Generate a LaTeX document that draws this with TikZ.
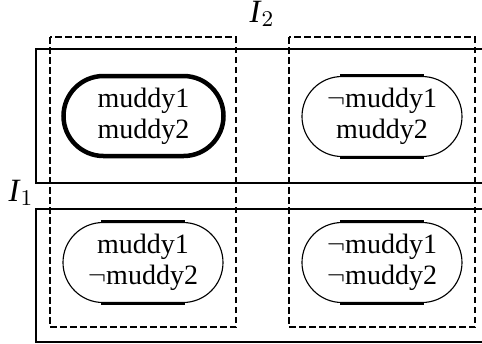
\documentclass[tikz,border=0pt]{standalone}
\usepackage{fontspec}
\setmainfont{Liberation Serif}
\usepackage{tikz}
\usetikzlibrary{shapes.misc,calc}

\begin{document}
\begin{tikzpicture}[x=0.4pt,y=-0.4pt,
  world/.style={rounded rectangle,draw,line width=0.45pt,minimum width=64pt,minimum height=32pt,
    inner sep=0pt,align=center,font=\fontsize{11.2}{12.4}\selectfont},
  actual/.style={world,line width=1.8pt},
  info/.style={line width=1.15pt,dash pattern=on 2.6pt off 1.4pt},
  part/.style={line width=1.05pt},
  agent/.style={font=\fontsize{13}{15}\selectfont}]
\useasboundingbox (0,0) rectangle (482,343);
% partition of agent 1
\draw[part] (482,49)--(36,49)--(36,183)--(482,183);
\draw[part] (482,209)--(36,209)--(36,342)--(482,342);
\node[agent] at (21,193) {\textit{I}$_1$};
% partition of agent 2
\draw[info] (50,37) rectangle (236,327);
\draw[info] (289,37) rectangle (475,327);
\node[agent] at (262,14) {\textit{I}$_2$};
% worlds
\node[actual] (mm) at (143.5,116) {muddy1\\muddy2};
\node[world] (nm) at (382,116.5) {$\neg$muddy1\\muddy2};
\node[world] (mn) at (143,262.5) {muddy1\\$\neg$muddy2};
\node[world] (nn) at (382,262.5) {$\neg$muddy1\\$\neg$muddy2};
\foreach \w in {nm,mn,nn} {
  \draw[line width=1.2pt] ($(\w.north)+(-42,0)$)--($(\w.north)+(42,0)$);
  \draw[line width=1.2pt] ($(\w.south)+(-42,0)$)--($(\w.south)+(42,0)$);
}
\end{tikzpicture}
\end{document}
